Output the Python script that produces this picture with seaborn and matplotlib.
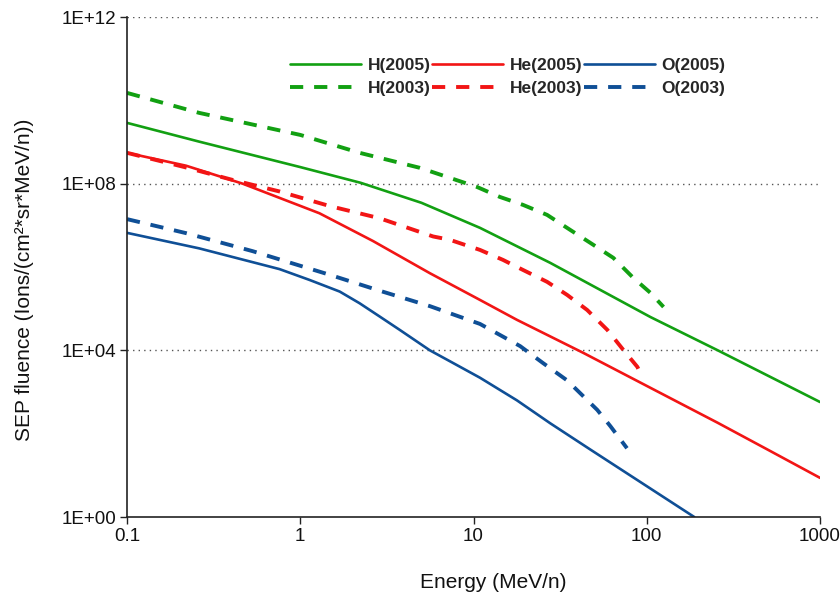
import numpy as np
import pandas as pd
import matplotlib
matplotlib.use("Agg")
import matplotlib.pyplot as plt
import seaborn as sns
from matplotlib.ticker import FixedLocator, NullLocator

# ---- data ----
h2005_E = [0.1, 0.261, 1.0, 2.23, 5.01, 10.9, 27.7, 105, 257, 1000]
h2005_F = [2.88e9, 1.02e9, 2.5e8, 1.05e8, 3.47e7, 8.7e6, 1.26e6, 6.3e4, 1.0e4, 575]

h2003_E = [0.1, 0.261, 1.0, 2.2, 4.9, 7.3, 10.5, 14.2, 19.3, 26.6, 36.1, 47.2, 64.1, 83.6, 105, 125]
h2003_F = [1.51e10, 5.0e9, 1.48e9, 5.5e8, 2.4e8, 1.38e8, 8.3e7, 4.8e7, 3.1e7, 1.78e7,
           7.8e6, 3.8e6, 1.66e6, 5.5e5, 2.4e5, 1.1e5]

he2005_E = [0.1, 0.219, 0.465, 1.29, 2.63, 5.6, 10.9, 17.8, 43, 105, 257, 501, 1000]
he2005_F = [5.5e8, 2.7e8, 1.0e8, 1.95e7, 4.2e6, 7.1e5, 1.62e5, 5.4e4, 8.7e3,
            1.26e3, 182, 41, 8.7]

he2003_E = [0.1, 0.219, 0.407, 0.759, 1.48, 2.87, 5.85, 7.3, 10.9, 14.8, 19.3, 26.6, 34.7,
            45.3, 59.2, 73.3, 88.3, 94.4]
he2003_F = [5.5e8, 2.45e8, 1.23e8, 6.5e7, 2.9e7, 1.48e7, 5.4e6, 4.5e6, 2.57e6, 1.48e6,
            8.5e5, 4.4e5, 2.14e5, 9.3e4, 3.1e4, 1.02e4, 4.0e3, 2.2e3]

o2005_E = [0.1, 0.261, 0.759, 1.13, 1.69, 2.2, 2.87, 3.75, 5.6, 7.6, 10.9, 17.8, 27.7, 47.2, 188]
o2005_F = [6.6e6, 2.8e6, 8.9e5, 4.9e5, 2.57e5, 1.35e5, 6.5e4, 3.1e4, 1.0e4, 5.0e3, 2.2e3,
           631, 178, 41.7, 1.0]

o2003_E = [0.1, 0.219, 0.531, 1.0, 1.48, 2.87, 5.6, 10.9, 18.6, 25.1, 34.7, 51.8, 61.7, 76.9]
o2003_F = [1.41e7, 6.5e6, 2.4e6, 1.07e6, 6.5e5, 2.7e5, 1.15e5, 4.3e4, 1.26e4, 5.0e3,
           1.9e3, 372, 151, 44.7]

x_ticks = [0.1, 1, 10, 100, 1000]
x_tick_labels = ["0.1", "1", "10", "100", "1000"]
y_ticks = [1e0, 1e4, 1e8, 1e12]
y_tick_labels = ["1E+00", "1E+04", "1E+08", "1E+12"]

series = [
    ("H(2005)", h2005_E, h2005_F),
    ("H(2003)", h2003_E, h2003_F),
    ("He(2005)", he2005_E, he2005_F),
    ("He(2003)", he2003_E, he2003_F),
    ("O(2005)", o2005_E, o2005_F),
    ("O(2003)", o2003_E, o2003_F),
]

GREEN = "#12a012"
RED = "#f21515"
BLUE = "#0f4f96"
styles = {
    "H(2005)": (GREEN, "-"), "H(2003)": (GREEN, "--"),
    "He(2005)": (RED, "-"), "He(2003)": (RED, "--"),
    "O(2005)": (BLUE, "-"), "O(2003)": (BLUE, "--"),
}

sns.set_style("white")
plt.rcParams["font.family"] = ["Liberation Sans", "DejaVu Sans"]

fig = plt.figure(figsize=(8.4, 5.98), dpi=100)
ax = fig.add_axes([127 / 840, 81 / 598, 693 / 840, 500 / 598])

handles = []
for name, E, F in series:
    col, ls = styles[name]
    df = pd.DataFrame({"E": E, "F": F})
    dashed = ls == "--"
    sns.lineplot(data=df, x="E", y="F", ax=ax, color=col, estimator=None, sort=False,
                 linewidth=2.8 if dashed else 1.9, label=name)
    line = ax.get_lines()[-1]
    line.set_solid_joinstyle("round")
    if dashed:
        line.set_dashes((3.4, 2.8))
    handles.append(line)

ax.set_xscale("log")
ax.set_yscale("log")
ax.set_xlim(0.1, 1000)
ax.set_ylim(1e0, 1e12)
ax.xaxis.set_major_locator(FixedLocator(x_ticks))
ax.set_xticklabels(x_tick_labels)
ax.xaxis.set_minor_locator(NullLocator())
ax.yaxis.set_major_locator(FixedLocator(y_ticks))
ax.set_yticklabels(y_tick_labels)
ax.yaxis.set_minor_locator(NullLocator())

ax.grid(False)
for yv in y_ticks[1:]:
    ax.axhline(yv, color="#555555", linestyle=(0, (1, 3)), linewidth=1.0, zorder=0)

for s in ["top", "right"]:
    ax.spines[s].set_visible(False)
for s in ["left", "bottom"]:
    ax.spines[s].set_color("#222222")
    ax.spines[s].set_linewidth(1.2)

ax.tick_params(axis="both", which="major", direction="out", length=5, width=1.0,
               color="#222222", labelsize=13.5, labelcolor="#111111", pad=3,
               bottom=True, left=True)

ax.set_xlabel("Energy (MeV/n)", fontsize=15, color="#111111")
ax.set_ylabel("SEP fluence (Ions/(cm²*sr*MeV/n))", fontsize=15, color="#111111")
ax.xaxis.set_label_coords((493 - 127) / 693, (517 - 582) / 500)
ax.yaxis.set_label_coords((25 - 127) / 693, (517 - 280) / 500)
ax.xaxis.label.set_va("center")
ax.yaxis.label.set_va("center")

leg = ax.legend(handles=handles, labels=[s[0] for s in series], ncol=3,
                loc="upper left", bbox_to_anchor=(290 / 840, 1 - 58 / 598),
                bbox_transform=fig.transFigure, frameon=False,
                prop={"weight": "bold", "size": 12.5},
                handlelength=4.1, handletextpad=0.4, columnspacing=0.05,
                labelspacing=0.42, borderpad=0, borderaxespad=0)

fig.savefig("out.png", dpi=100)
